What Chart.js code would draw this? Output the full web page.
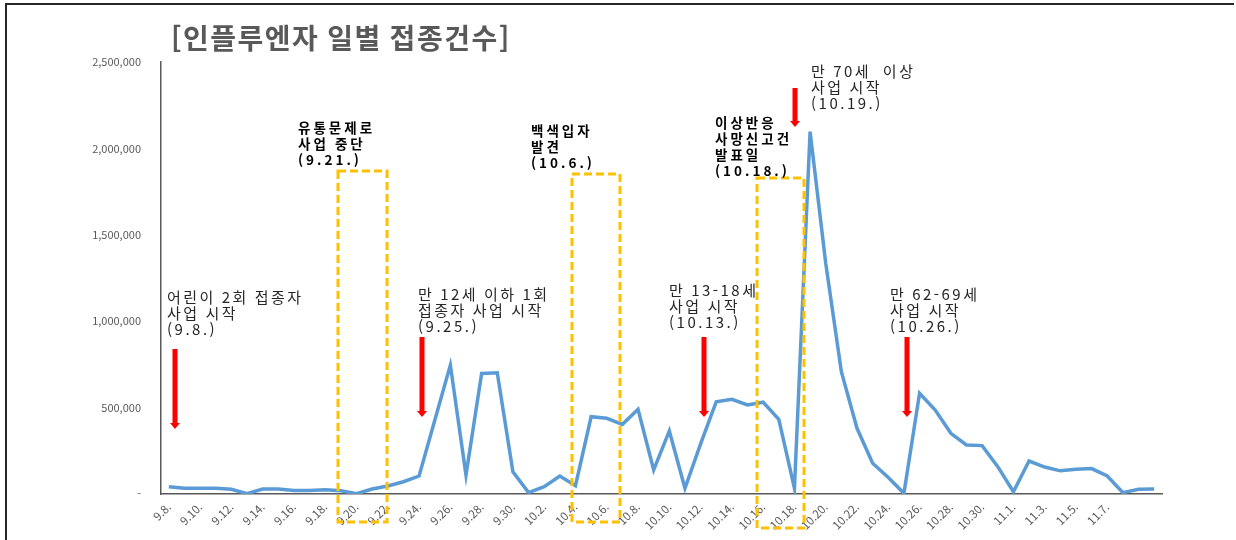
<!DOCTYPE html>
<html lang="ko">
<head>
<meta charset="utf-8">
<title>인플루엔자 일별 접종건수</title>
<script src="https://cdn.jsdelivr.net/npm/chart.js@4.4.1/dist/chart.umd.min.js"></script>
<style>
  html, body { margin: 0; padding: 0; background: #fff; }
  #wrap { position: relative; width: 1236px; height: 540px; }
</style>
</head>
<body>
<div id="wrap"><canvas id="dailyChart"></canvas></div>
<script>
// 날짜 (9.8. ~ 11.10.)
const dates = [
  '9.8.', '9.9.', '9.10.', '9.11.', '9.12.', '9.13.', '9.14.', '9.15.', '9.16.', '9.17.',
  '9.18.', '9.19.', '9.20.', '9.21.', '9.22.', '9.23.', '9.24.', '9.25.', '9.26.', '9.27.',
  '9.28.', '9.29.', '9.30.',
  '10.1.', '10.2.', '10.3.', '10.4.', '10.5.', '10.6.', '10.7.', '10.8.', '10.9.', '10.10.',
  '10.11.', '10.12.', '10.13.', '10.14.', '10.15.', '10.16.', '10.17.', '10.18.', '10.19.', '10.20.',
  '10.21.', '10.22.', '10.23.', '10.24.', '10.25.', '10.26.', '10.27.', '10.28.', '10.29.', '10.30.',
  '10.31.',
  '11.1.', '11.2.', '11.3.', '11.4.', '11.5.', '11.6.', '11.7.', '11.8.', '11.9.', '11.10.'
];

// 일별 접종건수 (그림에서 읽은 추정값)
const dailyCounts = [
  42000, 33000, 33000, 33000, 27000, 2000, 29000, 29000, 20000, 20000,
  25000, 19000, 2000, 29000, 46000, 71000, 104000, 425000, 746000, 110000,
  698000, 702000, 129000,
  8000, 42000, 104000, 48000, 447000, 438000, 403000, 490000, 139000, 365000,
  33000, 290000, 534000, 548000, 515000, 531000, 432000, 33000, 2097000, 1335000,
  708000, 380000, 178000, 95000, 4000, 583000, 486000, 351000, 284000, 280000,
  158000,
  13000, 191000, 156000, 134000, 143000, 147000, 104000, 8000, 27000, 29000
];

// y축 눈금
const yTicks = [0, 500000, 1000000, 1500000, 2000000, 2500000];
// 라벨을 표시할 마지막 날짜
const lastLabel = '11.7.';

const titleText = '[인플루엔자 일별 접종건수]';

// 주석 (설명 텍스트)
const notes = [
  { lines: ['어린이 2회 접종자', '사업 시작', '(9.8.)'], x: 167, y: 297, bold: false },
  { lines: ['유통문제로', '사업 중단', '(9.21.)'], x: 298, y: 128, bold: true },
  { lines: ['만 12세 이하 1회', '접종자 사업 시작', '(9.25.)'], x: 418, y: 294, bold: false },
  { lines: ['백색입자', '발견', '(10.6.)'], x: 531, y: 131, bold: true },
  { lines: ['만 13-18세', '사업 시작', '(10.13.)'], x: 669, y: 290, bold: false },
  { lines: ['이상반응', '사망신고건', '발표일', '(10.18.)'], x: 715, y: 123, bold: true },
  { lines: ['만 70세  이상', '사업 시작', '(10.19.)'], x: 811, y: 71, bold: false },
  { lines: ['만 62-69세', '사업 시작', '(10.26.)'], x: 890, y: 294, bold: false }
];

const arrows = [
  { x: 175, top: 349, bottom: 429 },
  { x: 422, top: 337, bottom: 417 },
  { x: 704, top: 337, bottom: 417 },
  { x: 795, top: 88, bottom: 127 },
  { x: 907, top: 337, bottom: 417 }
];

const boxes = [
  { left: 338, right: 387, top: 171, bottom: 522 },
  { left: 572, right: 620, top: 174, bottom: 522 },
  { left: 757, right: 804, top: 178, bottom: 528 }
];

const FONT = "'Noto Sans CJK KR', 'Noto Sans', sans-serif";

const overlayPlugin = {
  id: 'overlay',
  afterDraw(chart) {
    const ctx = chart.ctx;
    ctx.save();

    // 바깥 테두리 (위, 왼쪽)
    ctx.strokeStyle = '#262626';
    ctx.lineWidth = 2;
    ctx.beginPath();
    ctx.moveTo(6, 540);
    ctx.lineTo(6, 4);
    ctx.lineTo(1234, 4);
    ctx.stroke();

    // 제목
    ctx.fillStyle = '#595959';
    ctx.font = 'bold 28px ' + FONT;
    ctx.letterSpacing = '1.5px';
    ctx.textBaseline = 'middle';
    ctx.textAlign = 'left';
    ctx.fillText(titleText, 171, 38);

    // 노란 점선 박스
    ctx.letterSpacing = '0px';
    ctx.strokeStyle = '#FFC000';
    ctx.lineWidth = 3;
    ctx.setLineDash([8, 4]);
    boxes.forEach(b => {
      ctx.strokeRect(b.left, b.top, b.right - b.left, b.bottom - b.top);
    });
    ctx.setLineDash([]);

    // 빨간 화살표
    ctx.fillStyle = '#FF0000';
    arrows.forEach(a => {
      ctx.fillRect(a.x - 2.5, a.top, 5, a.bottom - a.top - 5);
      ctx.beginPath();
      ctx.moveTo(a.x - 5, a.bottom - 6);
      ctx.lineTo(a.x + 5, a.bottom - 6);
      ctx.lineTo(a.x, a.bottom);
      ctx.closePath();
      ctx.fill();
    });

    // 주석 텍스트
    notes.forEach(n => {
      ctx.fillStyle = n.bold ? '#000000' : '#262626';
      ctx.font = (n.bold ? 'bold 13.5px ' : '15px ') + FONT;
      ctx.letterSpacing = n.bold ? '3px' : '2.5px';
      const step = 16;
      n.lines.forEach((line, i) => {
        ctx.fillText(line, n.x, n.y + i * step);
      });
    });

    ctx.restore();
  }
};

new Chart(document.getElementById('dailyChart'), {
  type: 'line',
  data: {
    labels: dates,
    datasets: [{
      label: '접종건수',
      data: dailyCounts,
      borderColor: '#5B9BD5',
      borderWidth: 3.5,
      pointRadius: 0,
      tension: 0,
      fill: false
    }]
  },
  options: {
    responsive: true,
    maintainAspectRatio: false,
    animation: false,
    layout: { padding: { top: 62, right: 74, bottom: 0, left: 0 } },
    plugins: {
      legend: { display: false },
      tooltip: { enabled: false }
    },
    scales: {
      x: {
        offset: true,
        grid: { display: false, drawTicks: false },
        border: { display: true, color: '#595959', width: 1.5 },
        ticks: {
          autoSkip: false,
          minRotation: 45,
          maxRotation: 45,
          padding: 6,
          color: '#595959',
          font: { family: FONT, size: 11.5 },
          callback: function (value, index) {
            const stop = dates.indexOf(lastLabel);
            return (index % 2 === 0 && index <= stop) ? dates[index] : '';
          }
        },
        afterFit: scale => { scale.height = 46; }
      },
      y: {
        min: 0,
        max: yTicks[yTicks.length - 1],
        grid: { display: false, drawTicks: false },
        border: { display: true, color: '#595959', width: 1.5 },
        afterBuildTicks: scale => { scale.ticks = yTicks.map(v => ({ value: v })); },
        ticks: {
          padding: 20,
          color: '#595959',
          font: { family: FONT, size: 11 },
          callback: v => v === 0 ? '-' : v.toLocaleString('en-US')
        },
        afterFit: scale => { scale.width = 161; }
      }
    }
  },
  plugins: [overlayPlugin]
});
</script>
</body>
</html>
